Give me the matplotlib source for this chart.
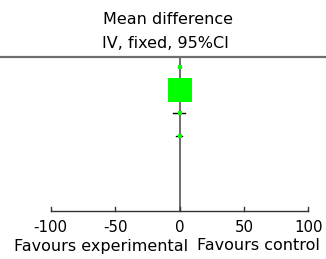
import matplotlib
matplotlib.use("Agg")
import matplotlib.pyplot as plt
import numpy as np

# Data
studies = [1, 2, 3, 4]
mean_diff = [0.0, 0.0, 0.0, 0.0]
ci_low = [-1.0, -3.0, -4.8, -2.9]
ci_high = [1.0, 3.0, 4.5, 1.7]
weights = [2.6, 92.0, 2.7, 2.7]
tick_values = [-100, -50, 0, 50, 100]
tick_labels = ["-100", "-50", "0", "50", "100"]
title_lines = ["Mean difference", "IV, fixed, 95%CI"]
left_label = "Favours experimental"
right_label = "Favours control"

W, H, DPI = 326, 259, 100
fig = plt.figure(figsize=(W / DPI, H / DPI), dpi=DPI)

# pixel mapping
x0_px, scale = 179.5, 1.288  # px for 0, px per unit
row0_px, row_step = 44.0, 23.0
xlim = ((0 - x0_px) / scale, (W - x0_px) / scale)
ylim = ((H - row0_px) / row_step, (0 - row0_px) / row_step)

ax = fig.add_axes([0, 0, 1, 1])
ax.set_xlim(*xlim)
ax.set_ylim(*ylim)
ax.axis("off")

def row_of(py):
    return (py - row0_px) / row_step

top_row = row_of(56.5)
axis_row = row_of(210.5)

# top rule
ax.axhline(top_row, color="#6e6e6e", lw=1.6)
# zero line
ax.plot([0, 0], [top_row, axis_row], color="#555555", lw=1.2, zorder=1)

# CI lines and squares
for s, m, lo, hi, w in zip(studies, mean_diff, ci_low, ci_high, weights):
    ax.plot([lo, hi], [s, s], color="black", lw=1.0, zorder=2)
    size = 1.74 * np.sqrt(w)
    ax.plot([m], [s], marker="s", ms=size, color="#00ff00", mec="#00ff00",
            mew=0, zorder=3)

# x axis
ax.plot([tick_values[0], tick_values[-1]], [axis_row, axis_row], color="#333333", lw=1.0)
tick_len = 4 / row_step
for tv, tl in zip(tick_values, tick_labels):
    ax.plot([tv, tv], [axis_row, axis_row - tick_len], color="#333333", lw=1.0)
    ax.text(tv, row_of(231.5), tl, ha="center", va="baseline", fontsize=10.8, color="black")

ax.text((188 - x0_px) / scale, row_of(250.5), left_label, ha="right", va="baseline", fontsize=11.5)
ax.text((197 - x0_px) / scale, row_of(250.5), right_label, ha="left", va="baseline", fontsize=11.5)

ax.text((168 - x0_px) / scale, row_of(24.5), title_lines[0], ha="center", va="baseline", fontsize=11.5)
ax.text((165 - x0_px) / scale, row_of(48.3), title_lines[1], ha="center", va="baseline", fontsize=11.5)

fig.savefig("out.png", dpi=DPI)
